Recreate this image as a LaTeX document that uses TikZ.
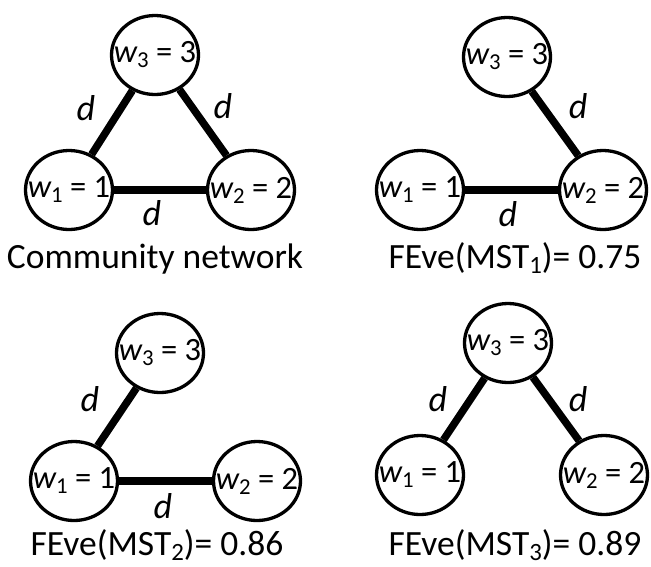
\documentclass[tikz,border=0pt]{standalone}
\usepackage{fontspec}
\setmainfont{Carlito}
\usetikzlibrary{shapes.geometric}
\newcommand\lowsub[1]{\raisebox{-0.32ex}{\scalebox{0.7}{#1}}}
\newcommand\wlab[2]{{\itshape w}\lowsub{#1} = #2}
\begin{document}
\begin{tikzpicture}[x=1pt,y=-1pt,
  vert/.style={draw, ellipse, line width=3.3pt, minimum width=87pt, minimum height=79pt, inner sep=0pt},
  vtext/.style={font=\fontsize{32.5}{34}\selectfont},
  edge/.style={line width=7.5pt},
  dlab/.style={font=\fontsize{36}{38}\selectfont\itshape},
  captext/.style={font=\fontsize{35.5}{40}\selectfont, anchor=base}]
\useasboundingbox (0,0) rectangle (651,566);
% ---------- panel 1
\node[vert, label={[vtext]center:\wlab{3}{3}}] (a3) at (155,55) {};
\node[vert, label={[vtext]center:\wlab{1}{1}}] (a1) at (69,190) {};
\node[vert, label={[vtext]center:\wlab{2}{2}}] (a2) at (251,190) {};
\draw[edge] (a3) -- (a1);
\draw[edge] (a3) -- (a2);
\draw[edge] (a1) -- (a2);
\node[dlab] (ad1) at (86,108) {d};
\node[dlab] (ad2) at (223,106) {d};
\node[dlab] (ad3) at (152,213) {d};
\node[captext] (acap) at (155,268) {Community network};
% ---------- panel 2
\node[vert, label={[vtext]center:\wlab{3}{3}}] (b3) at (507,57) {};
\node[vert, label={[vtext]center:\wlab{1}{1}}] (b1) at (420,190) {};
\node[vert, label={[vtext]center:\wlab{2}{2}}] (b2) at (603,190) {};
\draw[edge] (b3) -- (b2);
\draw[edge] (b1) -- (b2);
\node[dlab] (bd2) at (578,106) {d};
\node[dlab] (bd3) at (508,214) {d};
\node[captext] (bcap) at (515,268) {FEve(MST\lowsub{1})= 0.75};
% ---------- panel 3
\node[vert, label={[vtext]center:\wlab{3}{3}}] (c3) at (160,353) {};
\node[vert, label={[vtext]center:\wlab{1}{1}}] (c1) at (74,481) {};
\node[vert, label={[vtext]center:\wlab{2}{2}}] (c2) at (257,481) {};
\draw[edge] (c3) -- (c1);
\draw[edge] (c1) -- (c2);
\node[dlab] (cd1) at (90,399) {d};
\node[dlab] (cd3) at (163,506) {d};
\node[captext] (ccap) at (157,555) {FEve(MST\lowsub{2})= 0.86};
% ---------- panel 4
\node[vert, label={[vtext]center:\wlab{3}{3}}] (d3) at (508,343) {};
\node[vert, label={[vtext]center:\wlab{1}{1}}] (d1) at (420,475) {};
\node[vert, label={[vtext]center:\wlab{2}{2}}] (d2) at (604,475) {};
\draw[edge] (d3) -- (d1);
\draw[edge] (d3) -- (d2);
\node[dlab] (dd1) at (438,399) {d};
\node[dlab] (dd2) at (578,399) {d};
\node[captext] (dcap) at (515,555) {FEve(MST\lowsub{3})= 0.89};
\end{tikzpicture}
\end{document}
